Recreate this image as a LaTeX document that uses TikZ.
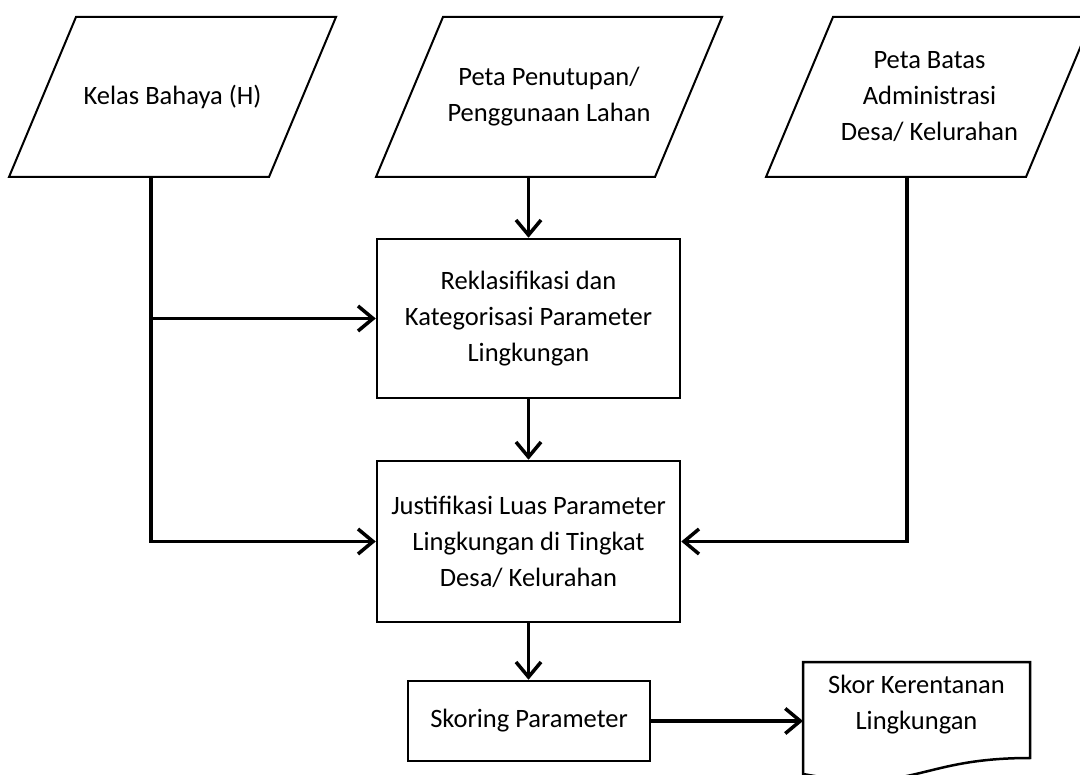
\documentclass[tikz,border=0pt]{standalone}
\usepackage{fontspec}
\setmainfont{Carlito}
\usetikzlibrary{arrows.meta}

\begin{document}
\begin{tikzpicture}[x=1pt,y=-1pt,
	txt/.style={align=center,font=\fontsize{26.5}{36}\selectfont},
	data/.style={txt,minimum height=160pt,minimum width=260pt,inner sep=0pt,outer sep=0pt},
	proc/.style={txt,rectangle,draw,line width=2.5pt},
	conn/.style={line width=3.5pt,-{Straight Barb[length=15pt,width=25pt]}}]
			\useasboundingbox (0,0) rectangle (1080,775);
			\clip (0,0) rectangle (1080,775);
			\node[data] (haz) at (172.5,97) {Kelas Bahaya (H)};
			\node[data,minimum width=279pt] (land) at (549,97) {Peta Penutupan/\\Penggunaan Lahan};
			\node[data] (admin) at (929.5,97) {Peta Batas\\Administrasi\\Desa/ Kelurahan};
			\foreach \n in {haz,land,admin}
				\draw[line width=2pt] ([xshift=33.5pt]\n.north west) -- ([xshift=33.5pt]\n.north east) -- ([xshift=-33.5pt]\n.south east) -- ([xshift=-33.5pt]\n.south west) -- cycle;
			\node[proc,minimum width=303pt,minimum height=159pt] (recl) at (528.5,318.5) {Reklasifikasi dan\\Kategorisasi Parameter\\Lingkungan};
			\node[proc,minimum width=303pt,minimum height=161pt] (just) at (528.5,541.5) {Justifikasi Luas Parameter\\Lingkungan di Tingkat\\Desa/ Kelurahan};
			\node[proc,minimum width=242pt,minimum height=80pt] (skor) at (529,721) {Skoring Parameter};
			\node[txt,minimum width=227pt,minimum height=86pt,outer sep=0pt] (vuln) at (916.5,705) {Skor Kerentanan\\Lingkungan};
			\draw[line width=2.5pt] (vuln.north west) -- (vuln.north east) -- ([yshift=-10pt]vuln.south east) .. controls ([yshift=-10pt]vuln.south) and ([yshift=-47pt]vuln.south) .. ([yshift=-26pt]vuln.south west) -- cycle;
			\coordinate (lft) at (151,318.5);
			\coordinate (rgt) at (907,541.5);
			\draw[conn] (haz.south -| lft) |- (just.west);
			\draw[conn] (lft) -- (recl.west);
			\draw[conn] (land.south -| recl.north) -- (recl.north);
			\draw[conn] (admin.south -| rgt) |- (just.east);
			\draw[conn] (recl.south) -- (just.north);
			\draw[conn] (just.south) -- (just.south |- skor.north);
			\draw[conn] (skor.east) -- (skor.east -| vuln.west);
		\end{tikzpicture}
\end{document}
